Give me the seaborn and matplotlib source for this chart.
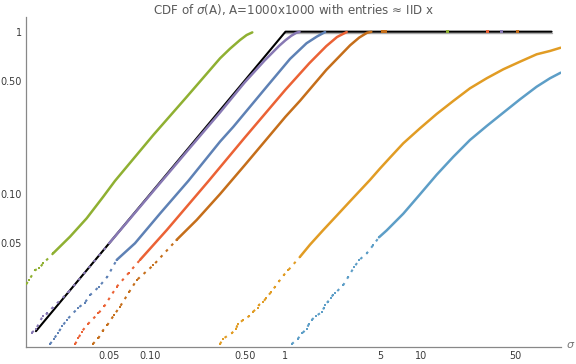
import pandas as pd
import matplotlib
matplotlib.use('Agg')
from matplotlib import pyplot as plt
import seaborn as sns

green_x = [0.0122, 0.0128, 0.0142, 0.0152, 0.0163, 0.0193, 0.0257, 0.0341, 0.0452, 0.0552, 0.106, 0.187, 0.329, 0.389, 0.462, 0.517, 0.569]
green_y = [0.028, 0.0297, 0.0342, 0.0351, 0.0376, 0.0434, 0.0549, 0.0712, 0.0967, 0.121, 0.232, 0.398, 0.686, 0.785, 0.889, 0.954, 0.99]

purple_x = [0.0134, 0.0144, 0.0162, 0.0175, 0.0191, 0.025, 0.05, 0.1, 0.2, 0.33, 0.5, 0.7, 0.9, 1.0, 1.1, 1.2, 1.27]
purple_y = [0.0141, 0.0148, 0.0179, 0.0185, 0.0201, 0.025, 0.05, 0.099, 0.196, 0.32, 0.488, 0.664, 0.82, 0.886, 0.942, 0.984, 0.998]

blue_x = [0.0183, 0.0195, 0.021, 0.0226, 0.0243, 0.0296, 0.0330, 0.0361, 0.0420, 0.0484, 0.0568, 0.0775, 0.119, 0.192, 0.329, 0.412, 0.727, 1.08, 1.43, 1.70, 1.96]
blue_y = [0.012, 0.0129, 0.0141, 0.0155, 0.0169, 0.0201, 0.0215, 0.024, 0.0270, 0.0311, 0.0395, 0.05, 0.0764, 0.121, 0.211, 0.26, 0.459, 0.68, 0.849, 0.932, 0.995]

red_x = [0.028, 0.0296, 0.0313, 0.0350, 0.0415, 0.0460, 0.0568, 0.0700, 0.0844, 0.133, 0.269, 0.5, 1.0, 1.5, 2.0, 2.4, 2.83]
red_y = [0.012, 0.013, 0.0143, 0.0160, 0.0185, 0.0205, 0.027, 0.033, 0.0395, 0.0603, 0.12, 0.223, 0.44, 0.64, 0.815, 0.927, 0.995]

brown_x = [0.0378, 0.0415, 0.0448, 0.0484, 0.0540, 0.0601, 0.0700, 0.0798, 0.106, 0.157, 0.221, 0.329, 0.5, 1.0, 1.28, 2.0, 3.0, 3.5, 4.0, 4.3]
brown_y = [0.012, 0.013, 0.0145, 0.0157, 0.0180, 0.0204, 0.0250, 0.0297, 0.0367, 0.0524, 0.0695, 0.1004, 0.151, 0.30, 0.376, 0.582, 0.825, 0.92, 0.985, 0.998]

orange_x = [0.329, 0.344, 0.401, 0.431, 0.444, 0.488, 0.538, 0.573, 0.624, 0.637, 0.686, 0.718, 0.782, 0.837, 0.90, 0.975, 1.049,
            1.28, 1.516, 1.90, 2.39, 2.99, 4.20, 4.98, 5.90, 7.40, 9.83, 13.06, 17.31, 22.99, 30.54, 40.5, 53.8, 71.4, 89.5, 107.4]
orange_y = [0.012, 0.0129, 0.0140, 0.0148, 0.0159, 0.0169, 0.0178, 0.0189, 0.0201, 0.0209, 0.0218, 0.0230, 0.0250, 0.0270, 0.0293, 0.0320, 0.0342,
            0.0413, 0.049, 0.0603, 0.0740, 0.0905, 0.1225, 0.144, 0.168, 0.2059, 0.2546, 0.312, 0.375, 0.4486, 0.517, 0.5871, 0.654, 0.726, 0.761, 0.797]

lightblue_x = [1.111, 1.23, 1.33, 1.434, 1.491, 1.561, 1.671, 1.859, 1.923, 1.946, 2.048, 2.156, 2.23, 2.319, 2.671, 2.908, 3.203, 3.505,
               3.975, 4.446, 4.898, 5.583, 7.402, 9.83, 13.06, 17.31, 22.99, 30.54, 40.5, 53.8, 71.4, 89.5, 107.4]
lightblue_y = [0.012, 0.0129, 0.0140, 0.0149, 0.0160, 0.0169, 0.0178, 0.0189, 0.0201, 0.0209, 0.0218, 0.0229, 0.0240, 0.0246, 0.0277, 0.0311, 0.0356, 0.0395,
               0.0433, 0.0488, 0.0544, 0.0600, 0.0760, 0.100, 0.132, 0.170, 0.2158, 0.263, 0.3177, 0.3838, 0.4589, 0.517, 0.5596]

# reference line y = sigma, capped at 1
ref_x = [0.0144, 1.0, 92.0]
ref_y = [0.0144, 1.0, 1.0]
gray_x = [1.0, 92.0]
gray_y = [0.975, 0.975]

# single top points (CDF = 1) sitting far right on the cap line
top_x = [15.7, 31.1, 39.4, 51.7, 5.2, 5.5]
top_series = ['green', 'red', 'purple', 'brown', 'brown', 'brown']

colors = {'green': '#8FB032', 'purple': '#8778B3', 'blue': '#5E81B5', 'red': '#EB6235',
          'brown': '#C56E1A', 'orange': '#E19C24', 'lightblue': '#5D9EC7'}

# CDF level where the dots of each series merge into a solid trace
solid_from = {'green': 0.04, 'purple': 0.03, 'blue': 0.036, 'red': 0.036,
              'brown': 0.04, 'orange': 0.04, 'lightblue': 0.052}

series = [('green', green_x, green_y), ('purple', purple_x, purple_y), ('blue', blue_x, blue_y),
          ('red', red_x, red_y), ('brown', brown_x, brown_y), ('orange', orange_x, orange_y),
          ('lightblue', lightblue_x, lightblue_y)]

sns.set_style('white')
plt.rcParams['font.family'] = ['DejaVu Sans']

fig = plt.figure(figsize=(5.76, 3.64), dpi=100)
ax = fig.add_axes([25.7 / 576, 17.3 / 364, 535 / 576, 329.7 / 364])
ax.set_xscale('log')
ax.set_yscale('log')

sns.lineplot(x=gray_x, y=gray_y, color='#a8a8a8', lw=1.0, ax=ax, zorder=1)
sns.lineplot(x=ref_x, y=ref_y, color='black', lw=1.5, sort=False, estimator=None, ax=ax, zorder=2)

for name, xs, ys in series:
    d = pd.DataFrame({'sigma': xs, 'cdf': ys})
    cut = solid_from[name]
    dense = d[d['cdf'] >= cut]
    first = dense.index[0]
    sparse = d.loc[:first]
    sns.lineplot(data=dense, x='sigma', y='cdf', sort=False, estimator=None,
                 color=colors[name], lw=1.8, ax=ax, zorder=3)
    # loose dots at the low end
    sns.lineplot(data=sparse, x='sigma', y='cdf', sort=False, estimator=None,
                 color=colors[name], lw=1.5, ax=ax, zorder=3,
                 linestyle=(0, (1.3, 2.5)), dash_capstyle='butt')
    sns.scatterplot(data=sparse, x='sigma', y='cdf', marker='s', s=4,
                    color=colors[name], linewidth=0, ax=ax, zorder=3)

tops = pd.DataFrame({'sigma': top_x, 'cdf': [1.0] * len(top_x), 'series': top_series})
sns.scatterplot(data=tops, x='sigma', y='cdf', hue='series', palette=colors, marker='s',
                s=4.5, linewidth=0, legend=False, ax=ax, zorder=4)

ax.set_xlim(0.0121, 107.4)
ax.set_ylim(0.01156, 1.231)

ax.set_xticks([0.05, 0.1, 0.5, 1, 5, 10, 50])
ax.set_xticklabels(['0.05', '0.10', '0.50', '1', '5', '10', '50'])
ax.set_xticks([0.02, 0.03, 0.04, 0.06, 0.07, 0.08, 0.09, 0.2, 0.3, 0.4, 0.6, 0.7, 0.8, 0.9,
               2, 3, 4, 6, 7, 8, 9, 20, 30, 40, 60, 70, 80, 90, 100], minor=True)
ax.set_yticks([0.05, 0.1, 0.5, 1])
ax.set_yticklabels(['0.05', '0.10', '0.50', '1'])
ax.set_yticks([0.02, 0.03, 0.04, 0.06, 0.07, 0.08, 0.09, 0.2, 0.3, 0.4, 0.6, 0.7, 0.8, 0.9], minor=True)
ax.xaxis.set_minor_formatter(plt.NullFormatter())
ax.yaxis.set_minor_formatter(plt.NullFormatter())

axis_col = '#888888'
ax.tick_params(which='major', direction='in', length=3.1, width=0.7, color=axis_col,
               labelsize=6.9, labelcolor='#3a3a3a')
ax.tick_params(axis='x', which='major', pad=3.2)
ax.tick_params(axis='y', which='major', pad=2.6)
ax.tick_params(which='minor', direction='in', length=1.7, width=0.6, color=axis_col)
for s in ['top', 'right']:
    ax.spines[s].set_visible(False)
for s in ['left', 'bottom']:
    ax.spines[s].set_color(axis_col)
    ax.spines[s].set_linewidth(0.9)

ax.set_xlabel('')
ax.set_ylabel('')
ax.set_title('CDF of $\\sigma$(A), A=1000x1000 with entries \u2248 IID x', fontsize=8.6, color='#5a5a5a', pad=2.0)
fig.text(571 / 576, 1 - 345 / 364, '$\\sigma$', fontsize=8, color='#777777', ha='center', va='center')

fig.savefig('out.png', dpi=100)
